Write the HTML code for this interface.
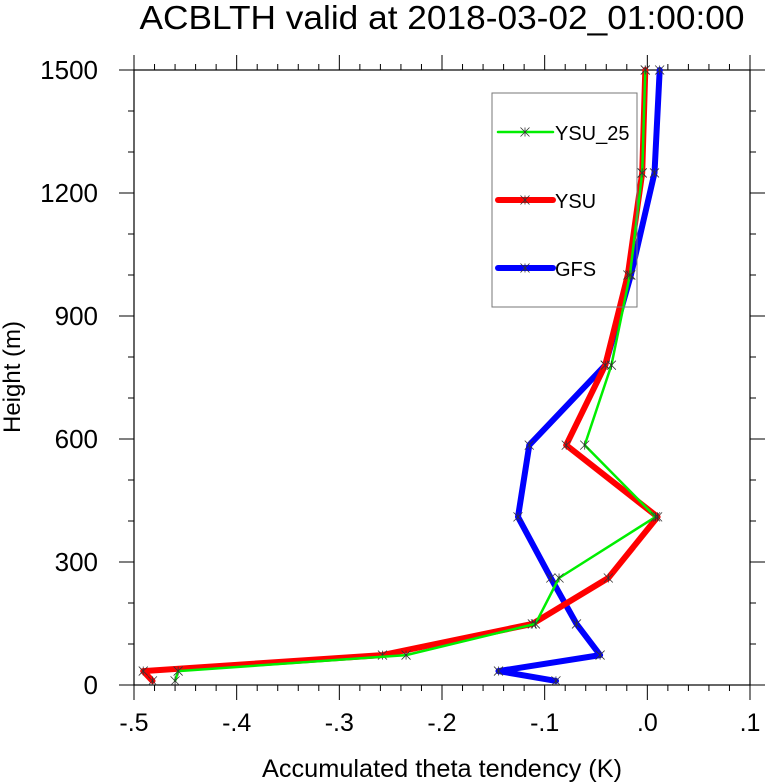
<!DOCTYPE html>
<html><head><meta charset="utf-8"><style>
html,body{margin:0;padding:0;background:#fff;}
svg{display:block;font-family:"Liberation Sans",sans-serif;}
</style></head><body>
<svg id="chart" width="766" height="782" viewBox="0 0 766 782">
<text x="442" y="29" font-size="33" text-anchor="middle" textLength="605" lengthAdjust="spacingAndGlyphs">ACBLTH valid at 2018-03-02_01:00:00</text>
<g id="axes"></g>
<g id="series"></g>
<text x="442" y="777" font-size="25" text-anchor="middle" textLength="360" lengthAdjust="spacingAndGlyphs">Accumulated theta tendency (K)</text>
<text transform="translate(20,377) rotate(-90)" font-size="24" text-anchor="middle">Height (m)</text>
<g id="legend">
<rect x="492" y="93" width="145" height="214" fill="none" stroke="#777" stroke-width="1"/>
</g>
</svg>
<script>
const heights=[10,34,73,149,261,410,585,780,1000,1249,1500];
const ysu25=[-0.460,-0.457,-0.235,-0.109,-0.086,0.008,-0.061,-0.035,-0.017,-0.005,-0.002];
const ysu=[-0.482,-0.491,-0.258,-0.112,-0.038,0.010,-0.079,-0.041,-0.019,-0.005,-0.002];
const gfs=[-0.089,-0.145,-0.046,-0.069,-0.094,-0.126,-0.115,-0.041,-0.016,0.007,0.012];
const xTicks=[-0.5,-0.4,-0.3,-0.2,-0.1,0,0.1];
const xTickLabels=["-.5","-.4","-.3","-.2","-.1",".0",".1"];
const yTicks=[0,300,600,900,1200,1500];
const seriesNames=["YSU_25","YSU","GFS"];

const NS="http://www.w3.org/2000/svg";
const X0=134,X1=750,Y0=685,Y1=70;
const xMin=-0.5,xMax=0.1,yMin=0,yMax=1500;
function sx(v){return X0+(v-xMin)/(xMax-xMin)*(X1-X0);}
function sy(v){return Y0-(v-yMin)/(yMax-yMin)*(Y0-Y1);}
function mk(tag,attrs,parent){const e=document.createElementNS(NS,tag);for(const k in attrs)e.setAttribute(k,attrs[k]);parent.appendChild(e);return e;}
const axes=document.getElementById('axes');
const frame=mk('rect',{x:X0,y:Y1,width:X1-X0,height:Y0-Y1,fill:'none',stroke:'#000','stroke-width':1.2},axes);


for(let i=0;i<=30;i++){
  const v=xMin+i*0.02, x=sx(v), major=(i%5===0), L=major?15:6;
  const t1=mk('line',{x1:x,x2:x,y1:Y0,y2:Y0+L,stroke:'#000','stroke-width':1},axes);
  
  
  const t2=mk('line',{x1:x,x2:x,y1:Y1,y2:Y1-L,stroke:'#000','stroke-width':1},axes);
  
  
}
xTicks.forEach((v,i)=>{
  const t=mk('text',{x:sx(v),y:731,'font-size':25,'text-anchor':'middle'},axes);
  t.textContent=xTickLabels[i];
  
  
});
for(let h=0;h<=1500;h+=100){
  const y=sy(h), major=(h%300===0), L=major?15:6;
  const t1=mk('line',{x1:X0-L,x2:X0,y1:y,y2:y,stroke:'#000','stroke-width':1},axes);
  
  
  const t2=mk('line',{x1:X1,x2:X1+L,y1:y,y2:y,stroke:'#000','stroke-width':1},axes);
  
  
}
yTicks.forEach(v=>{
  const t=mk('text',{x:98,y:sy(v)+9,'font-size':26,'text-anchor':'end'},axes);
  t.textContent=String(v);
  
  
});
function marker(g,x,y){
  const s=4.5;
  const m=mk('path',{d:`M${x-s},${y-s}L${x+s},${y+s}M${x-s},${y+s}L${x+s},${y-s}M${x},${y-s}L${x},${y+s}`,stroke:'#333','stroke-width':0.8,fill:'none'},g);
  
  
}
const sg=document.getElementById('series');
const defs=[[gfs,'#0000ff',6,'gfs-line'],[ysu,'#ff0000',6,'ysu-line'],[ysu25,'#00ee00',2.5,'ysu25-line']];
defs.forEach(([vals,col,w,name])=>{
  const g=mk('g',{},sg);
  
  
  const pts=vals.map((v,i)=>sx(v).toFixed(1)+','+sy(heights[i]).toFixed(1)).join(' ');
  const pl=mk('polyline',{points:pts,fill:'none',stroke:col,'stroke-width':w,'stroke-linejoin':'round','stroke-linecap':'round'},g);
  
  
  vals.forEach((v,i)=>marker(g,sx(v),sy(heights[i])));
});
const lg=document.getElementById('legend');
const lcols=['#00ee00','#ff0000','#0000ff'],lw=[2.5,6,6],ly=[132,200,268];
seriesNames.forEach((n,i)=>{
  const g=mk('g',{},lg);
  
  
  const l=mk('line',{x1:498,x2:553,y1:ly[i],y2:ly[i],stroke:lcols[i],'stroke-width':lw[i],'stroke-linecap':'round'},g);
  
  
  marker(g,525,ly[i]);
  const t=mk('text',{x:555,y:ly[i]+8,'font-size':20},g);
  t.textContent=n;
  
  
});
</script>
</body></html>
